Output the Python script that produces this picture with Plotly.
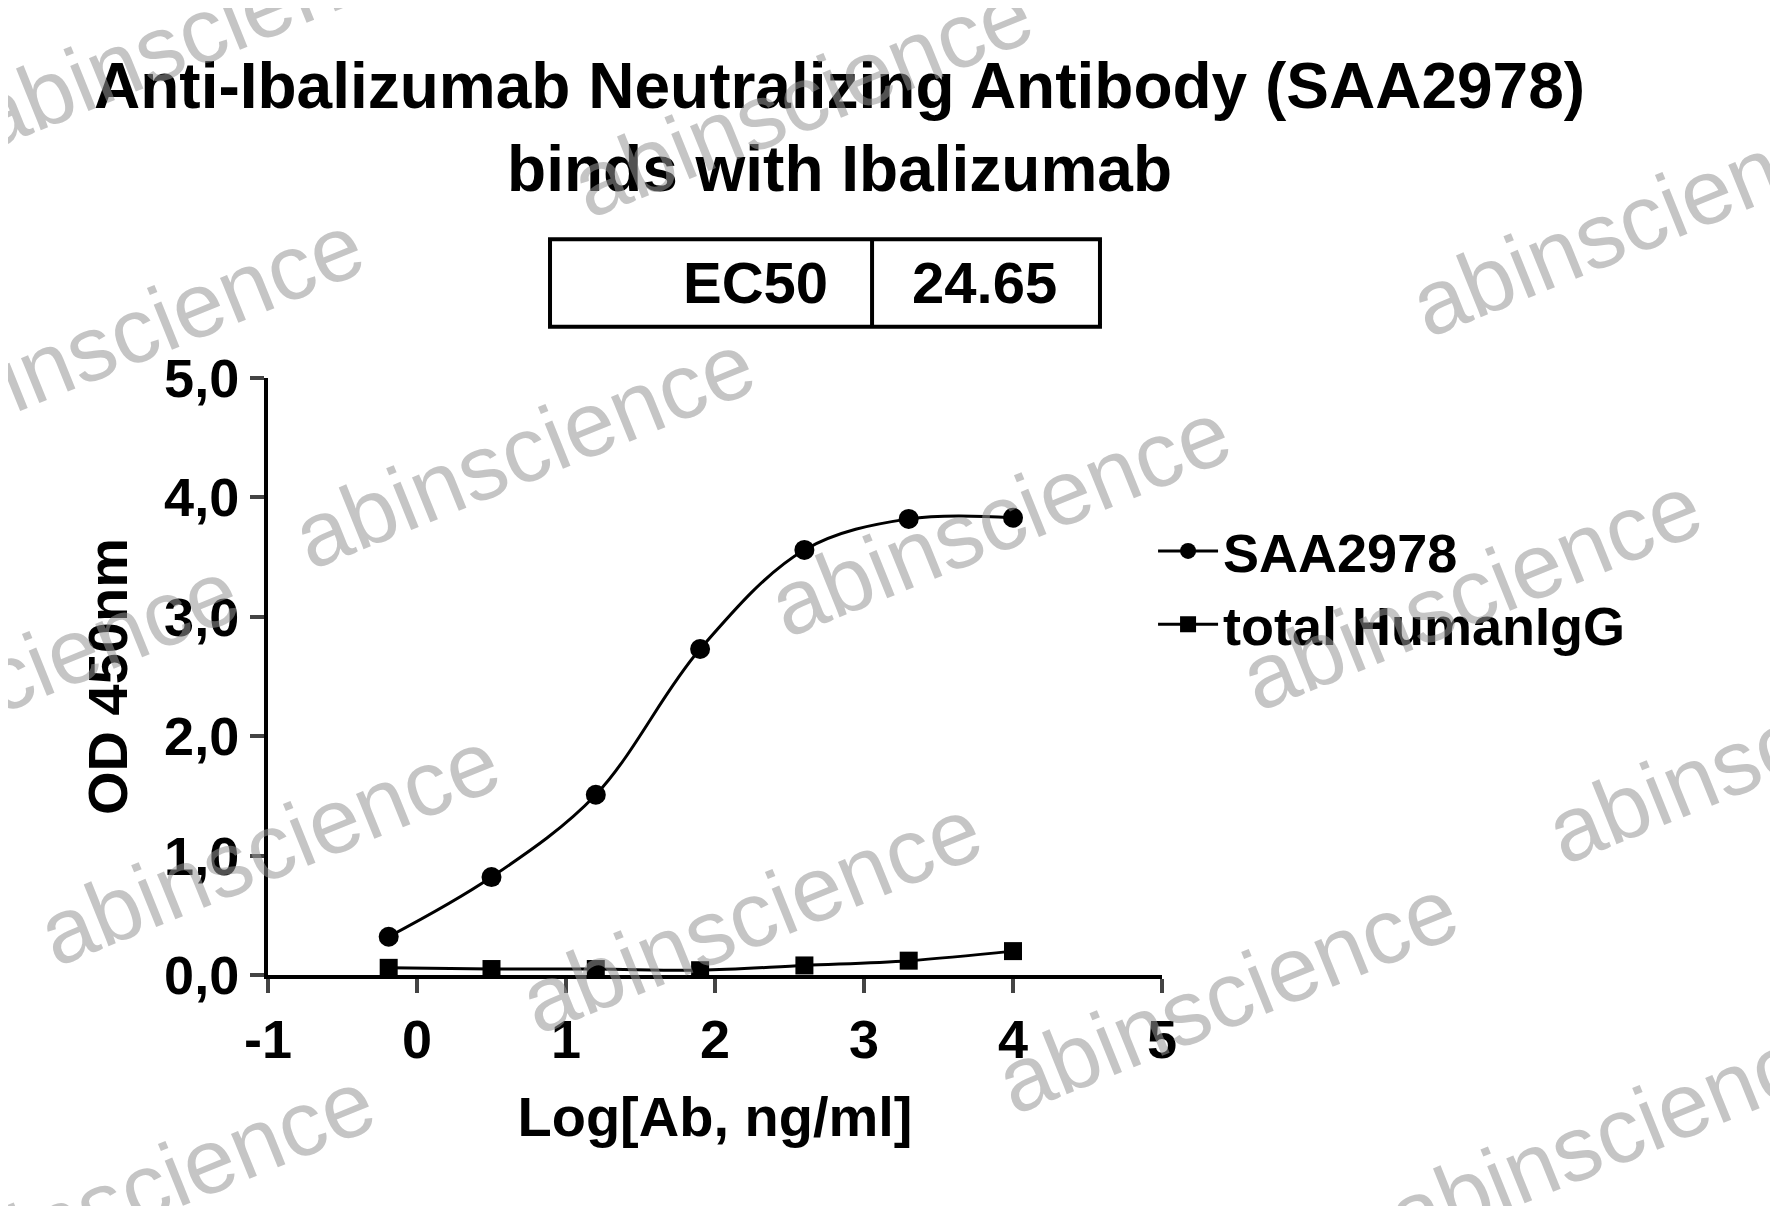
import plotly.graph_objects as go

log_conc = [-0.19, 0.50, 1.20, 1.90, 2.60, 3.30, 4.00]
saa2978 = [0.32, 0.82, 1.51, 2.73, 3.56, 3.82, 3.83]
total_igg = [0.06, 0.05, 0.05, 0.04, 0.08, 0.12, 0.20]
series_names = ["SAA2978", "total HumanIgG"]
x_ticks = [-1, 0, 1, 2, 3, 4, 5]
x_tick_labels = ["-1", "0", "1", "2", "3", "4", "5"]
y_ticks = [0, 1, 2, 3, 4, 5]
y_tick_labels = ["0,0", "1,0", "2,0", "3,0", "4,0", "5,0"]
ec50_label, ec50_value = "EC50", "24.65"

W, H = 1778, 1206
L, R, T, B = 260, 1154, 370, 967
FONT = "Liberation Sans, Arial, sans-serif"

fig = go.Figure()
fig.add_trace(go.Scatter(x=log_conc, y=saa2978, name="<b>" + series_names[0] + "</b>", mode="lines+markers",
                         line=dict(color="black", width=3, shape="spline", smoothing=1.0),
                         marker=dict(symbol="circle", size=20, color="black")))
fig.add_trace(go.Scatter(x=log_conc, y=total_igg, name="<b>" + series_names[1] + "</b>", mode="lines+markers",
                         line=dict(color="black", width=3, shape="spline"),
                         marker=dict(symbol="square", size=18, color="black")))

def px(x, y):
    s = 1778 / 1568
    return ((x * s - L) / (R - L), (B - y * s) / (B - T))

anns = []
anns.append(dict(text="<b>Anti-Ibalizumab Neutralizing Antibody (SAA2978)<br>binds with Ibalizumab</b>",
                 xref="paper", yref="paper", x=px(733, 0)[0], y=px(0, 105)[1], showarrow=False,
                 font=dict(size=64, color="black", family=FONT), xanchor="center", yanchor="middle"))
x0, y0 = px(478, 204); x1, y1 = px(963, 281); xd, _ = px(762, 0)
shapes = [dict(type="rect", xref="paper", yref="paper", x0=x0, x1=x1, y0=y1, y1=y0,
               line=dict(color="black", width=4)),
          dict(type="line", xref="paper", yref="paper", x0=xd, x1=xd, y0=y1, y1=y0,
               line=dict(color="black", width=4))]
ym = (y0 + y1) / 2
anns.append(dict(text="<b>" + ec50_label + "</b>", xref="paper", yref="paper", x=px(659, 0)[0], y=ym,
                 xanchor="center", yanchor="middle",
                 showarrow=False, font=dict(size=58, family=FONT, color="black")))
anns.append(dict(text="<b>" + ec50_value + "</b>", xref="paper", yref="paper", x=px(861, 0)[0], y=ym,
                 xanchor="center", yanchor="middle",
                 showarrow=False, font=dict(size=58, family=FONT, color="black")))
wm = [(170, 20), (700, 80), (1440, 185), (110, 285), (455, 390), (875, 450), (1290, 515),
      (1560, 650), (230, 740), (655, 800), (1075, 870), (1420, 990), (120, 1040), (0, 590)]
for (a, b) in wm:
    xp, yp = px(a, b)
    anns.append(dict(text="abinscience", xref="paper", yref="paper", x=xp, y=yp, showarrow=False,
                     xanchor="center", yanchor="middle",
                     textangle=-22, font=dict(size=92, family=FONT, color="rgba(150,150,150,0.55)")))

fig.update_layout(
    width=W, height=H, paper_bgcolor="white", plot_bgcolor="white",
    margin=dict(l=L, r=W - R, t=T, b=H - B),
    font=dict(family=FONT, color="black"),
    xaxis=dict(range=[-1, 5], tickvals=x_ticks, ticktext=["<b>%s</b>" % t for t in x_tick_labels],
               showline=True, linecolor="black", linewidth=4,
               ticks="outside", ticklen=14, tickwidth=4, showgrid=False, zeroline=False,
               tickfont=dict(size=54, family=FONT), title=dict(text="<b>Log[Ab, ng/ml]</b>",
               font=dict(size=56), standoff=30)),
    yaxis=dict(range=[0, 5], tickvals=y_ticks, ticktext=["<b>%s</b>" % t for t in y_tick_labels],
               showline=True, linecolor="black", linewidth=4, ticks="outside", ticklen=14, tickwidth=4,
               showgrid=False, zeroline=False, tickfont=dict(size=54, family=FONT),
               title=dict(text="<b>OD 450nm</b>", font=dict(size=56), standoff=20)),
    legend=dict(x=0.99, y=0.78, xanchor="left", yanchor="top", font=dict(size=54, family=FONT),
                bgcolor="rgba(0,0,0,0)", itemwidth=60),
    showlegend=True, shapes=shapes, annotations=anns,
)
fig.write_html("out.html")
